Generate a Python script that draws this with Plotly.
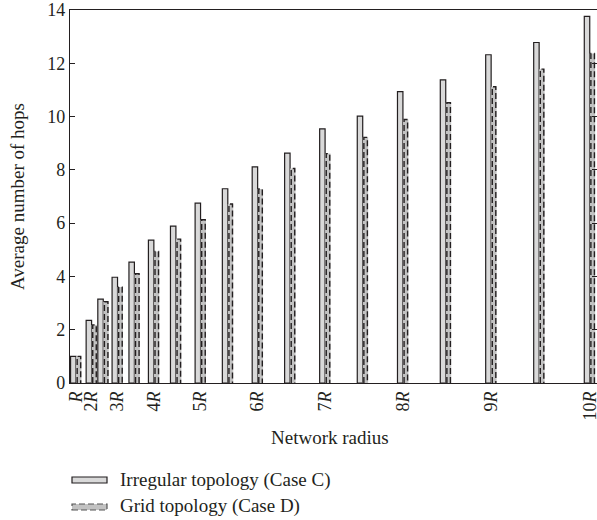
import plotly.graph_objects as go

# Network radius in multiples of R
radius = [1, 2, 2.5, 3, 3.5, 4, 4.5, 5, 5.5, 6, 6.5, 7, 7.5, 8, 8.5, 9, 9.5, 10]
irregular = [1.0, 2.35, 3.15, 3.97, 4.54, 5.36, 5.89, 6.75, 7.29, 8.11, 8.63, 9.54, 10.02, 10.94, 11.38, 12.32, 12.78, 13.76]
grid = [1.0, 2.18, 3.05, 3.6, 4.1, 4.94, 5.4, 6.13, 6.72, 7.28, 8.05, 8.61, 9.22, 9.89, 10.52, 11.12, 11.78, 12.37]
tick_radius = [1, 2, 3, 4, 5, 6, 7, 8, 9, 10]
tick_text = ["<i>R</i>", "2<i>R</i>", "3<i>R</i>", "4<i>R</i>", "5<i>R</i>",
             "6<i>R</i>", "7<i>R</i>", "8<i>R</i>", "9<i>R</i>", "10<i>R</i>"]

# x axis is proportional to area (radius squared)
xs = [r * r for r in radius]
BW = 1.05
FONT = "Liberation Serif"
TXT = "#231f20"

fig = go.Figure()
fig.add_trace(go.Bar(x=xs, y=irregular, width=BW, offset=-BW,
                     marker=dict(color="#d9d9d9", line=dict(color="#231f20", width=1.2)),
                     showlegend=False, hoverinfo="skip"))
fig.add_trace(go.Bar(x=xs, y=grid, width=BW, offset=0,
                     marker=dict(color="#c2c2c2", line=dict(width=0)),
                     showlegend=False, hoverinfo="skip"))

# dashed outline of grid bars
ox, oy = [], []
for x, h in zip(xs, grid):
    x0 = x + 0.22
    x1 = x + BW - 0.15
    ox += [x0, x0, x1, x1, None]
    oy += [0, h, h, 0, None]
fig.add_trace(go.Scatter(x=ox, y=oy, mode="lines",
                         line=dict(color="#231f20", width=1.4, dash="6px,3px"),
                         showlegend=False, hoverinfo="skip"))

fig.update_layout(
    width=597, height=520,
    margin=dict(l=70, r=0, t=10, b=137),
    plot_bgcolor="white", paper_bgcolor="white",
    barmode="overlay",
    font=dict(family=FONT, size=18, color=TXT),
    xaxis=dict(range=[-0.16, 101.4], tickmode="array", automargin=False,
               tickvals=[r * r for r in tick_radius], ticktext=tick_text,
               tickangle=-90, ticks="", showgrid=False, zeroline=False,
               ticklabeloverflow="allow",
               showline=True, linecolor="#231f20", linewidth=1.2, mirror=True,
               tickfont=dict(size=18)),
    yaxis=dict(range=[0, 14], tickvals=[0, 2, 4, 6, 8, 10, 12, 14], automargin=False,
               ticks="inside", ticklen=5, tickcolor="#231f20", tickwidth=1.2,
               showgrid=False, zeroline=False,
               showline=True, linecolor="#231f20", linewidth=1.2, mirror="ticks",
               tickfont=dict(size=18)),
)

def px2paper_x(px):
    return (px - 70) / 527.0

def px2paper_y(py):
    return (383 - py) / 373.0

# axis titles
fig.add_annotation(xref="paper", yref="paper", x=px2paper_x(330), y=px2paper_y(437),
                   text="Network radius", showarrow=False,
                   xanchor="center", yanchor="middle", font=dict(size=19))
fig.add_annotation(xref="paper", yref="paper", x=px2paper_x(17), y=px2paper_y(197),
                   text="Average number of hops", showarrow=False, textangle=-90,
                   xanchor="center", yanchor="middle", font=dict(size=19))

# manual legend
fig.add_shape(type="rect", xref="paper", yref="paper",
              x0=px2paper_x(72), x1=px2paper_x(107), y0=px2paper_y(483), y1=px2paper_y(477),
              fillcolor="#d9d9d9", line=dict(color="#231f20", width=1.2))
fig.add_shape(type="rect", xref="paper", yref="paper",
              x0=px2paper_x(72), x1=px2paper_x(107), y0=px2paper_y(510), y1=px2paper_y(504),
              fillcolor="#c2c2c2", line=dict(color="#555555", width=1.2, dash="6px,3px"))
fig.add_annotation(xref="paper", yref="paper", x=px2paper_x(118), y=px2paper_y(480),
                   text="Irregular topology (Case C)", showarrow=False,
                   xanchor="left", yanchor="middle", font=dict(size=19))
fig.add_annotation(xref="paper", yref="paper", x=px2paper_x(118), y=px2paper_y(506),
                   text="Grid topology (Case D)", showarrow=False,
                   xanchor="left", yanchor="middle", font=dict(size=19))

fig.write_html("out.html", config={"displayModeBar": False, "staticPlot": True},
               post_script="document.body.style.margin='0';document.body.style.padding='0';document.body.style.overflow='hidden';")
